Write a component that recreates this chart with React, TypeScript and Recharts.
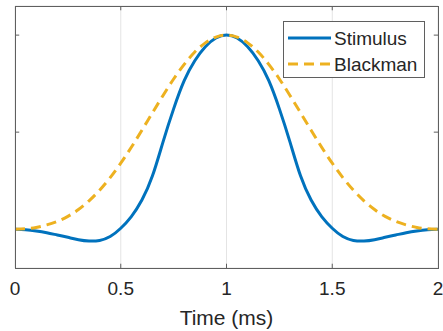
import { LineChart, Line, XAxis, YAxis, CartesianGrid, Legend, ReferenceLine } from 'recharts';

const time = [
  0, 0.05, 0.1, 0.15, 0.2, 0.25, 0.3, 0.35, 0.4, 0.45, 0.5, 0.55, 0.6, 0.65, 0.7, 0.75, 0.8, 0.85, 0.9, 0.95,
  1, 1.05, 1.1, 1.15, 1.2, 1.25, 1.3, 1.35, 1.4, 1.45, 1.5, 1.55, 1.6, 1.65, 1.7, 1.75, 1.8, 1.85, 1.9, 1.95, 2,
];

const stimulus = [
  0, -0.003, -0.009, -0.018, -0.03, -0.042, -0.054, -0.061, -0.058, -0.038, 0.005, 0.065, 0.15, 0.275, 0.45, 0.62,
  0.765, 0.868, 0.94, 0.985, 1, 0.985, 0.94, 0.868, 0.765, 0.62, 0.45, 0.275, 0.15, 0.065, 0.005, -0.038, -0.058,
  -0.061, -0.054, -0.042, -0.03, -0.018, -0.009, -0.003, 0,
];

const blackman = [
  0, 0.002, 0.009, 0.022, 0.04, 0.066, 0.101, 0.146, 0.201, 0.266, 0.34, 0.422, 0.51, 0.6, 0.689, 0.774, 0.849,
  0.913, 0.96, 0.99, 1, 0.99, 0.96, 0.913, 0.849, 0.774, 0.689, 0.6, 0.51, 0.422, 0.34, 0.266, 0.201, 0.146, 0.101,
  0.066, 0.04, 0.022, 0.009, 0.002, 0,
];

const xTicks = [0, 0.5, 1, 1.5, 2];
const yTicks = [0, 0.5, 1];
const xDomain = [0, 2];
const yDomain = [-0.2, 1.15];

const series = [
  { key: 'stimulus', name: 'Stimulus', color: '#0072BD', dash: undefined as string | undefined },
  { key: 'blackman', name: 'Blackman', color: '#EDB120', dash: '10 6' },
];

const rows = time.map((t, i) => ({ t, stimulus: stimulus[i], blackman: blackman[i] }));

const FONT = '"Liberation Sans", Arial, sans-serif';
const TEXT = '#262626';
const BOX = '#5f5f5f';
const W = 443;
const H = 331;
const MARGIN = { top: 6, right: 5, bottom: 0, left: 15 };
const X_AXIS_H = 63;
// inward tick length in data units (~4px)
const TICK_X = 0.02;
const TICK_Y = 0.022;

function LegendBox() {
  return (
    <svg width={143} height={58} style={{ display: 'block' }}>
      <rect x={0.5} y={0.5} width={141} height={56} fill="#fff" stroke={BOX} />
      {series.map((s, i) => (
        <g key={s.key}>
          <line x1={5} x2={48} y1={17 + i * 26} y2={17 + i * 26} stroke={s.color} strokeWidth={3} strokeDasharray={s.dash} />
          <text x={51} y={17 + i * 26} dy="0.36em" fontSize={19} fontFamily={FONT} fill={TEXT}>
            {s.name}
          </text>
        </g>
      ))}
    </svg>
  );
}

export default function App() {
  const plotW = W - MARGIN.left - MARGIN.right;
  const plotH = H - MARGIN.top - MARGIN.bottom - X_AXIS_H;
  return (
    <div style={{ position: 'absolute', left: 0, top: 0, width: W, height: H, background: '#fff' }}>
      <LineChart width={W} height={H} data={rows} margin={MARGIN}>
        <CartesianGrid xAxisId="x" yAxisId="y" stroke="#e4e4e4" />
        <XAxis
          xAxisId="x"
          dataKey="t"
          type="number"
          domain={xDomain}
          allowDataOverflow
          ticks={xTicks}
          height={X_AXIS_H}
          axisLine={false}
          tickLine={false}
          tickSize={0}
          tickMargin={14}
          tick={{ fontSize: 19, fill: TEXT, fontFamily: FONT }}
          label={{ value: 'Time (ms)', position: 'insideBottom', offset: 6, fontSize: 21, fill: TEXT, fontFamily: FONT }}
        />
        <YAxis yAxisId="y" type="number" domain={yDomain} allowDataOverflow ticks={yTicks} width={0} tick={false} tickLine={false} axisLine={false} />
        {/* inward ticks on all four sides */}
        {xTicks.slice(1, -1).map((v) => (
          <ReferenceLine key={`b${v}`} xAxisId="x" yAxisId="y" ifOverflow="visible" stroke={BOX} segment={[{ x: v, y: yDomain[0] }, { x: v, y: yDomain[0] + TICK_Y }]} />
        ))}
        {xTicks.slice(1, -1).map((v) => (
          <ReferenceLine key={`t${v}`} xAxisId="x" yAxisId="y" ifOverflow="visible" stroke={BOX} segment={[{ x: v, y: yDomain[1] }, { x: v, y: yDomain[1] - TICK_Y }]} />
        ))}
        {yTicks.map((v) => (
          <ReferenceLine key={`l${v}`} xAxisId="x" yAxisId="y" ifOverflow="visible" stroke={BOX} segment={[{ x: xDomain[0], y: v }, { x: xDomain[0] + TICK_X, y: v }]} />
        ))}
        {yTicks.map((v) => (
          <ReferenceLine key={`r${v}`} xAxisId="x" yAxisId="y" ifOverflow="visible" stroke={BOX} segment={[{ x: xDomain[1], y: v }, { x: xDomain[1] - TICK_X, y: v }]} />
        ))}
        <Legend
          layout="horizontal"
          verticalAlign="middle"
          align="center"
          content={() => <LegendBox />}
          wrapperStyle={{ position: 'absolute', left: 283, top: 21, width: 143, height: 58 }}
        />
        {series.map((s) => (
          <Line
            key={s.key}
            xAxisId="x"
            yAxisId="y"
            type="natural"
            dataKey={s.key}
            name={s.name}
            stroke={s.color}
            strokeWidth={3}
            strokeDasharray={s.dash}
            dot={false}
            isAnimationActive={false}
          />
        ))}
      </LineChart>
      {/* box frame around the plot area */}
      <div
        style={{
          position: 'absolute',
          left: MARGIN.left,
          top: MARGIN.top,
          width: plotW + 1,
          height: plotH + 1,
          boxSizing: 'border-box',
          border: `1px solid ${BOX}`,
          pointerEvents: 'none',
        }}
      />
    </div>
  );
}
